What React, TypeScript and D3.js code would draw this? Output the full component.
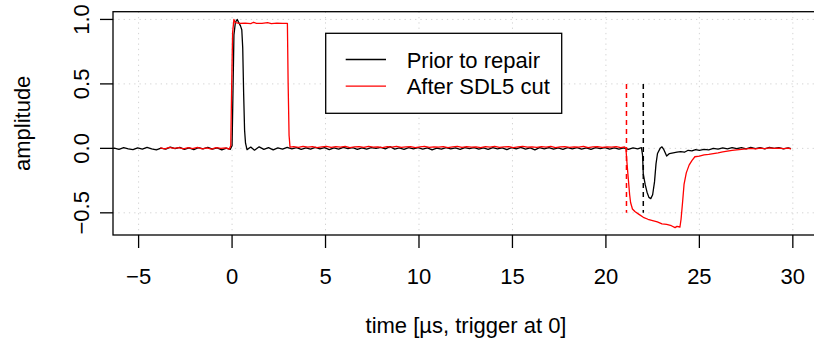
import React from "react";
import * as d3 from "d3";

// Prior to repair: [time µs, amplitude]
const priorData: [number, number][] = [
  [-6.37, 0.0], [-6.3, 0.002], [-6.05, -0.008], [-5.8, 0.006], [-5.55, -0.004], [-5.3, -0.01], [-5.05, 0.004],
  [-4.8, -0.006], [-4.55, 0.008], [-4.3, -0.004], [-4.05, -0.012], [-3.8, 0.002], [-3.55, -0.006],
  [-3.3, 0.01], [-3.05, -0.002], [-2.8, 0.008], [-2.55, -0.008], [-2.3, 0.004], [-2.05, -0.01],
  [-1.8, 0.006], [-1.55, -0.004], [-1.3, 0.008], [-1.05, -0.006], [-0.8, 0.004], [-0.55, -0.012],
  [-0.3, 0.002], [-0.1, -0.008],
  [0.0, 0.02], [0.05, 0.45], [0.1, 0.88], [0.18, 0.98], [0.28, 1.0], [0.36, 0.975], [0.45, 0.95],
  [0.52, 0.92], [0.57, 0.78], [0.62, 0.42], [0.67, 0.14], [0.72, 0.04], [0.8, -0.01],
  [1.0, 0.01], [1.2, -0.014], [1.45, 0.012], [1.7, -0.008], [1.95, 0.006], [2.2, -0.012], [2.45, 0.004],
  [2.7, -0.006], [2.95, 0.008], [3.2, -0.004], [3.45, 0.006], [3.7, -0.008], [3.95, 0.004], [4.2, -0.006],
  [4.45, 0.008], [4.7, -0.004], [4.95, 0.006], [5.2, -0.01], [5.45, 0.004], [5.7, -0.006], [5.95, 0.008],
  [6.2, -0.002], [6.45, 0.006], [6.7, -0.008], [6.95, 0.004], [7.2, -0.006], [7.45, 0.006], [7.7, 0.0],
  [7.95, 0.008], [8.2, -0.004], [8.45, 0.014], [8.7, -0.006], [8.95, 0.004], [9.2, -0.008], [9.45, 0.006],
  [9.7, -0.004], [9.95, 0.006], [10.2, -0.006], [10.45, 0.004], [10.7, -0.012], [10.95, 0.002],
  [11.2, -0.006], [11.45, 0.006], [11.7, -0.004], [11.95, 0.004], [12.2, -0.008], [12.45, 0.006],
  [12.7, -0.002], [12.95, 0.006], [13.2, -0.006], [13.45, 0.004], [13.7, -0.008], [13.95, 0.006],
  [14.2, -0.004], [14.45, 0.004], [14.7, -0.01], [14.95, 0.006], [15.2, -0.004], [15.45, 0.008],
  [15.7, -0.006], [15.95, 0.004], [16.2, -0.012], [16.45, 0.006], [16.7, -0.004], [16.95, 0.006],
  [17.2, -0.006], [17.45, 0.004], [17.7, -0.008], [17.95, 0.006], [18.2, -0.004], [18.45, 0.006],
  [18.7, -0.006], [18.95, 0.004], [19.2, -0.008], [19.45, 0.006], [19.7, -0.002], [19.95, 0.006],
  [20.2, -0.006], [20.45, 0.004], [20.7, -0.006], [20.95, 0.004], [21.2, -0.008], [21.45, 0.004],
  [21.7, -0.004], [21.9, 0.006],
  [21.96, -0.05], [22.0, -0.2], [22.1, -0.28], [22.2, -0.34], [22.3, -0.38], [22.4, -0.39], [22.5, -0.36],
  [22.6, -0.26], [22.68, -0.12], [22.76, -0.04], [22.9, 0.0], [23.0, 0.012], [23.1, -0.01], [23.25, -0.06],
  [23.4, -0.04], [23.6, -0.035], [23.8, -0.03], [24.0, -0.025], [24.2, -0.03], [24.4, -0.015], [24.6, -0.02],
  [24.8, -0.01], [25.0, -0.016], [25.25, -0.008], [25.5, -0.012], [25.75, 0.0], [26.0, -0.006],
  [26.25, 0.004], [26.5, -0.004], [26.75, 0.006], [27.0, -0.002], [27.25, 0.006], [27.5, -0.004],
  [27.75, 0.008], [28.0, -0.002], [28.25, 0.006], [28.5, -0.004], [28.75, 0.008], [29.0, 0.0],
  [29.25, 0.006], [29.5, -0.004], [29.75, 0.004], [29.9, -0.002],
];

// After SDL5 cut: [time µs, amplitude]
const afterData: [number, number][] = [
  [-3.85, 0.004], [-3.6, -0.004], [-3.35, 0.008], [-3.1, 0.0], [-2.85, 0.006], [-2.6, -0.004],
  [-2.35, 0.006], [-2.1, -0.002], [-1.85, 0.008], [-1.6, -0.004], [-1.35, 0.004], [-1.1, -0.006],
  [-0.85, 0.006], [-0.6, 0.0], [-0.35, 0.004], [-0.15, -0.006],
  [-0.07, 0.02], [-0.02, 0.5], [0.03, 0.9], [0.1, 1.0], [0.18, 0.975], [0.4, 0.97], [0.7, 0.972],
  [1.0, 0.968], [1.15, 0.978], [1.3, 0.97], [1.6, 0.97], [1.9, 0.975], [2.1, 0.968], [2.4, 0.972],
  [2.7, 0.97], [2.96, 0.97], [3.0, 0.5], [3.05, 0.1], [3.1, 0.01],
  [3.3, 0.014], [3.55, 0.008], [3.8, 0.016], [4.05, 0.01], [4.3, 0.014], [4.55, 0.006], [4.8, 0.012],
  [5.05, 0.016], [5.3, 0.008], [5.55, 0.014], [5.8, 0.01], [6.05, 0.016], [6.3, 0.006], [6.55, 0.012],
  [6.8, 0.014], [7.05, 0.008], [7.3, 0.016], [7.55, 0.01], [7.8, 0.012], [8.05, 0.006], [8.3, 0.014],
  [8.55, 0.01], [8.8, 0.016], [9.05, 0.008], [9.3, 0.012], [9.55, 0.014], [9.8, 0.006], [10.05, 0.012],
  [10.3, 0.016], [10.55, 0.008], [10.8, 0.012], [11.05, 0.01], [11.3, 0.014], [11.55, 0.006],
  [11.8, 0.012], [12.05, 0.016], [12.3, 0.008], [12.55, 0.014], [12.8, 0.01], [13.05, 0.012],
  [13.3, 0.006], [13.55, 0.014], [13.8, 0.01], [14.05, 0.016], [14.3, 0.008], [14.55, 0.012],
  [14.8, 0.014], [15.05, 0.006], [15.3, 0.012], [15.55, 0.016], [15.8, 0.01], [16.05, 0.012],
  [16.3, 0.008], [16.55, 0.014], [16.8, 0.01], [17.05, 0.016], [17.3, 0.006], [17.55, 0.012],
  [17.8, 0.014], [18.05, 0.008], [18.3, 0.012], [18.55, 0.01], [18.8, 0.016], [19.05, 0.006],
  [19.3, 0.012], [19.55, 0.014], [19.8, 0.008], [20.05, 0.012], [20.3, 0.01], [20.55, 0.014],
  [20.8, 0.006], [21.0, 0.012],
  [21.07, 0.0], [21.12, -0.1], [21.2, -0.24], [21.27, -0.36], [21.32, -0.42], [21.42, -0.47],
  [21.55, -0.49], [21.75, -0.51], [22.0, -0.535], [22.25, -0.55], [22.5, -0.56], [22.75, -0.57],
  [23.0, -0.585], [23.25, -0.59], [23.5, -0.6], [23.7, -0.615], [23.8, -0.605], [23.96, -0.61],
  [24.02, -0.55], [24.1, -0.42], [24.18, -0.28], [24.3, -0.19], [24.45, -0.13], [24.6, -0.095],
  [24.76, -0.065], [25.0, -0.06], [25.25, -0.05], [25.5, -0.046], [25.75, -0.04], [26.0, -0.035],
  [26.25, -0.028], [26.5, -0.022], [26.75, -0.016], [27.0, -0.012], [27.25, -0.008], [27.5, -0.004],
  [27.75, 0.0], [28.0, -0.004], [28.25, 0.002], [28.5, -0.002], [28.75, 0.004], [29.0, 0.0],
  [29.25, 0.002], [29.5, -0.002], [29.75, 0.002], [29.9, -0.004],
];

const xTicks = [-5, 0, 5, 10, 15, 20, 25, 30];
const yTicks = [-0.5, 0, 0.5, 1.0];
const yTickLabels = ["\u22120.5", "0.0", "0.5", "1.0"];
const legendLabels = ["Prior to repair", "After SDL5 cut"];
const seriesColors = ["#000000", "#ff0000"];
const markerTimes = [22.0, 21.1]; // prior (black), after (red)
const markerRange: [number, number] = [0.5, -0.5];

const W = 814;
const H = 341;
const FONT = "'Liberation Sans', Arial, Helvetica, sans-serif";

export default function App() {
  const left = 113;
  const right = 819;
  const top = 11.7;
  const bottom = 235;
  const x = d3.scaleLinear().domain([-6.37, 31.4]).range([left, right]);
  const y = d3.scaleLinear().domain([-0.672, 1.06]).range([bottom, top]);
  const line = d3
    .line<[number, number]>()
    .x((d) => x(d[0]))
    .y((d) => y(d[1]));

  const fs = 22;
  return (
    <svg
      width={W}
      height={H}
      style={{ position: "absolute", left: 0, top: 0, background: "#fff" }}
      fontFamily={FONT}
    >
      <rect x={0} y={0} width={W} height={H} fill="#fff" />
      <defs>
        <clipPath id="plotclip">
          <rect x={left} y={top} width={right - left} height={bottom - top} />
        </clipPath>
      </defs>
      {/* grid */}
      <g stroke="#d3d3d3" strokeWidth={1} strokeDasharray="1.3,4">
        {xTicks.map((t) => (
          <line key={"gx" + t} x1={x(t)} x2={x(t)} y1={top} y2={bottom} />
        ))}
        {yTicks.map((t) => (
          <line key={"gy" + t} x1={left} x2={right} y1={y(t)} y2={y(t)} />
        ))}
      </g>
      {/* series */}
      <g clipPath="url(#plotclip)" fill="none" strokeWidth={1.3} strokeLinejoin="round">
        <path d={line(priorData) || ""} stroke={seriesColors[0]} />
        <path d={line(afterData) || ""} stroke={seriesColors[1]} />
        {markerTimes.map((t, i) => (
          <line
            key={"m" + i}
            x1={x(t)}
            x2={x(t)}
            y1={y(markerRange[0])}
            y2={y(markerRange[1])}
            stroke={seriesColors[i]}
            strokeWidth={1.5}
            strokeDasharray="5,4"
          />
        ))}
      </g>
      {/* box */}
      <rect x={left} y={top} width={right - left} height={bottom - top} fill="none" stroke="#000" strokeWidth={1.3} />
      {/* x axis */}
      <g>
        {xTicks.map((t) => (
          <g key={"xt" + t}>
            <line x1={x(t)} x2={x(t)} y1={bottom} y2={bottom + 13} stroke="#000" strokeWidth={1.3} />
            <text x={x(t)} y={284} textAnchor="middle" fontSize={fs} fill="#000">
              {t < 0 ? "\u2212" + Math.abs(t) : String(t)}
            </text>
          </g>
        ))}
      </g>
      {/* y axis */}
      <g>
        {yTicks.map((t, i) => (
          <g key={"yt" + t}>
            <line x1={left} x2={left - 13} y1={y(t)} y2={y(t)} stroke="#000" strokeWidth={1.3} />
            <text
              transform={`translate(${88.5},${y(t)}) rotate(-90)`}
              textAnchor="middle"
              fontSize={fs}
              fill="#000"
            >
              {yTickLabels[i]}
            </text>
          </g>
        ))}
      </g>
      {/* axis titles */}
      <text x={(left + right) / 2} y={333} textAnchor="middle" fontSize={fs} fill="#000">
        time [µs, trigger at 0]
      </text>
      <text
        transform={`translate(${30},${(top + bottom) / 2}) rotate(-90)`}
        textAnchor="middle"
        fontSize={fs}
        fill="#000"
      >
        amplitude
      </text>
      {/* legend */}
      <g>
        <rect x={325.7} y={33.3} width={236} height={80} fill="#fff" stroke="#000" strokeWidth={1.3} />
        {legendLabels.map((lab, i) => {
          const ly = 59.5 + i * 26.7;
          return (
            <g key={lab}>
              <line x1={345.7} x2={386} y1={ly} y2={ly} stroke={seriesColors[i]} strokeWidth={1.3} />
              <text x={406.7} y={ly + 8} fontSize={fs} fill="#000">
                {lab}
              </text>
            </g>
          );
        })}
      </g>
    </svg>
  );
}
